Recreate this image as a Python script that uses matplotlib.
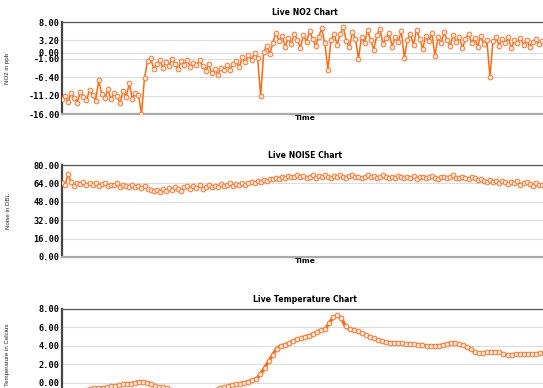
import matplotlib
matplotlib.use("Agg")
import matplotlib.pyplot as plt

# live sensor readings, one value per sample
no2_ppb = [
    -12.0, -11.2, -12.8, -10.5, -11.8, -13.0, -10.2, -11.5, -12.4, -9.8,
    -11.0, -12.6, -7.2, -10.8, -11.9, -9.6, -12.2, -10.4, -11.3, -13.2,
    -9.9, -11.6, -8.0, -12.0, -10.6, -11.1, -16.0, -6.5, -2.2, -1.4,
    -4.2, -3.0, -1.8, -4.0, -2.4, -3.5, -1.6, -2.9, -4.3, -2.2,
    -3.1, -1.9, -3.8, -2.6, -3.3, -2.0, -3.6, -4.8, -3.0, -5.4,
    -4.2, -5.8, -3.9, -4.6, -3.2, -4.4, -3.0, -2.2, -3.8, -1.2,
    -2.5, -0.6, -1.8, -0.2, -1.4, -11.4, 0.2, 1.8, -0.4, 2.6,
    5.2, 3.0, 4.4, 1.6, 3.8, 2.2, 5.0, 3.4, 1.2, 4.6,
    2.8, 5.6, 3.6, 1.8, 4.2, 6.4, 2.4, -4.5, 3.2, 5.0,
    2.0, 4.8, 6.8, 3.0, 1.4, 5.4, 3.6, -1.6, 4.2, 2.6,
    5.8, 3.2, 0.8, 4.6, 6.2, 2.2, 3.8, 5.2, 1.6, 4.0,
    2.8, 5.6, -1.4, 3.4, 4.8, 2.0, 6.0, 3.6, 1.0, 4.4,
    3.0, 5.2, -0.8, 4.0, 2.4, 5.4, 3.2, 1.8, 4.6, 2.8,
    4.2, 1.2, 3.6, 5.0, 2.6, 3.8, 1.6, 4.4, 2.2, 3.4,
    -6.4, 3.0, 4.2, 1.8, 3.6, 2.4, 4.0, 1.2, 3.2, 2.6,
    3.8, 2.0, 3.4, 1.6, 2.8, 3.6, 2.2, 3.0, 1.8, 2.6,
]

noise_dbl = [
    64.5, 63, 72, 65, 62, 64, 63.5, 65, 62.5, 64,
    63, 64.5, 62, 63.5, 64, 61.5, 63, 62.5, 64, 61,
    63, 62, 60.5, 62.5, 61, 62, 60, 61.5, 59.5, 58,
    57, 58.5, 56.5, 59.5, 57.5, 60, 58, 61, 59, 57.5,
    60.5, 62, 59, 61.5, 60, 62.5, 59.5, 61, 63, 60.5,
    62, 61, 63.5, 61.5, 62.5, 64, 62, 63.5, 62.5, 64.5,
    63, 64, 65.5, 64.5, 66, 65, 67, 66, 68, 67.5,
    69, 68, 70, 69, 70.5, 69.5, 70, 71, 69.5, 70.5,
    68.5, 70, 71.5, 69, 70.5, 69.5, 71, 70, 68.5, 70.5,
    69.5, 71, 70, 69, 70.5, 71.5, 69.5, 70, 68.5, 70,
    71, 69.5, 70.5, 69, 70, 71, 69.5, 68.5, 70, 69,
    70.5, 69.5, 68.5, 70, 69, 70.5, 68, 69.5, 70, 68.5,
    69.5, 70.5, 69, 68, 69.5, 70, 68.5, 69.5, 71, 69,
    68.5, 70, 69, 68, 69.5, 68.5, 67, 68, 66.5, 65,
    67, 65.5, 66.5, 64.5, 66, 65, 63.5, 65.5, 64, 66.5,
    63, 64.5, 65, 63.5, 62, 64, 63, 62.5, 61.5, 63,
]

temp_c = [
    -1.2, -1.1, -1.0, -1.0, -0.9, -0.9, -0.8, -0.7, -0.6, -0.6,
    -0.6, -0.5, -0.4, -0.4, -0.3, -0.2, -0.1, -0.1, 0.0, 0.1,
    0.1, 0.0, -0.1, -0.4, -0.5, -0.5, -0.6, -0.8, -1.0, -1.1,
    -1.2, -1.3, -1.3, -1.3, -1.2, -1.1, -1.0, -0.9, -0.8, -0.6,
    -0.5, -0.4, -0.3, -0.2, -0.1, 0.0, 0.1, 0.3, 0.4, 0.9,
    1.6, 2.3, 3.0, 3.7, 4.0, 4.1, 4.3, 4.5, 4.7, 4.8,
    5.0, 5.1, 5.3, 5.5, 5.7, 5.8, 6.5, 7.1, 7.3, 7.0,
    6.1, 5.8, 5.7, 5.6, 5.4, 5.2, 5.0, 4.8, 4.6, 4.5,
    4.4, 4.3, 4.3, 4.3, 4.3, 4.2, 4.2, 4.2, 4.1, 4.1,
    4.0, 4.0, 4.0, 4.0, 4.1, 4.2, 4.3, 4.3, 4.2, 4.1,
    3.9, 3.6, 3.3, 3.2, 3.2, 3.3, 3.3, 3.3, 3.3, 3.1,
    3.0, 3.0, 3.1, 3.1, 3.1, 3.1, 3.1, 3.1, 3.2, 3.2,
    3.1,
]

no2_ticks = [8.0, 3.2, 0.0, -1.6, -6.4, -11.2, -16.0]
noise_ticks = [80, 64, 48, 32, 16, 0]
temp_ticks = [8, 6, 4, 2, 0]

LINE = "#ff6a13"
EDGE = "#f07a3a"
FACE = "#fde6d6"

W, H = 543, 388
fig = plt.figure(figsize=(W / 100, H / 100), dpi=100)
fig.patch.set_facecolor("white")

tick_font = dict(family="DejaVu Sans Mono", weight="bold", size=6.2)
label_font = dict(family=["Liberation Sans Narrow", "Liberation Sans"],
                  size=4.4, color="#222222")


def panel(top_px, values, ticks, ylim, title, ylabel, show_time, ms, lw):
    ax = fig.add_axes([62 / W, 1 - (top_px + 92) / H, 486 / W, 92 / H])
    x = range(len(values))
    ax.plot(x, values, color=LINE, lw=lw, marker="o", ms=ms,
            mfc=FACE, mec=EDGE, mew=0.7, zorder=3)
    ax.set_xlim(0, len(values) - 1)
    ax.set_ylim(*ylim)
    ax.set_yticks(ticks)
    ax.set_yticklabels(["%.2f" % t for t in ticks], **tick_font)
    ax.set_xticks([])
    ax.tick_params(axis="y", length=0, pad=1.5)
    ax.grid(axis="y", color="#dddddd", lw=0.8)
    ax.set_axisbelow(True)
    ax.spines["left"].set_color("#444444")
    ax.spines["left"].set_linewidth(1.6)
    ax.spines["top"].set_color("#555555")
    ax.spines["top"].set_linewidth(0.9)
    ax.spines["bottom"].set_color("#aaaaaa")
    ax.spines["bottom"].set_linewidth(1.6)
    ax.spines["right"].set_visible(False)
    ax.set_title(title, fontsize=5.6, fontweight="bold",
                 family="DejaVu Sans", pad=5)
    fig.text(8 / W, 1 - (top_px + 46) / H, ylabel, rotation=90,
             ha="center", va="center", **label_font)
    if show_time:
        ax.set_xlabel("Time", fontsize=5.4, fontweight="bold",
                      family="DejaVu Sans", labelpad=1)
    return ax


panel(22, no2_ppb, no2_ticks, (-16, 8), "Live NO2 Chart", "NO2 in ppb",
      True, 3.4, 1.1)
panel(165, noise_dbl, noise_ticks, (0, 80), "Live NOISE Chart", "Noise in DBL",
      True, 3.4, 1.2)
panel(309, temp_c, temp_ticks, (-2, 8), "Live Temperature Chart",
      "Temperature in Celcius", False, 3.4, 2.4)

fig.savefig("out.png", dpi=100)
